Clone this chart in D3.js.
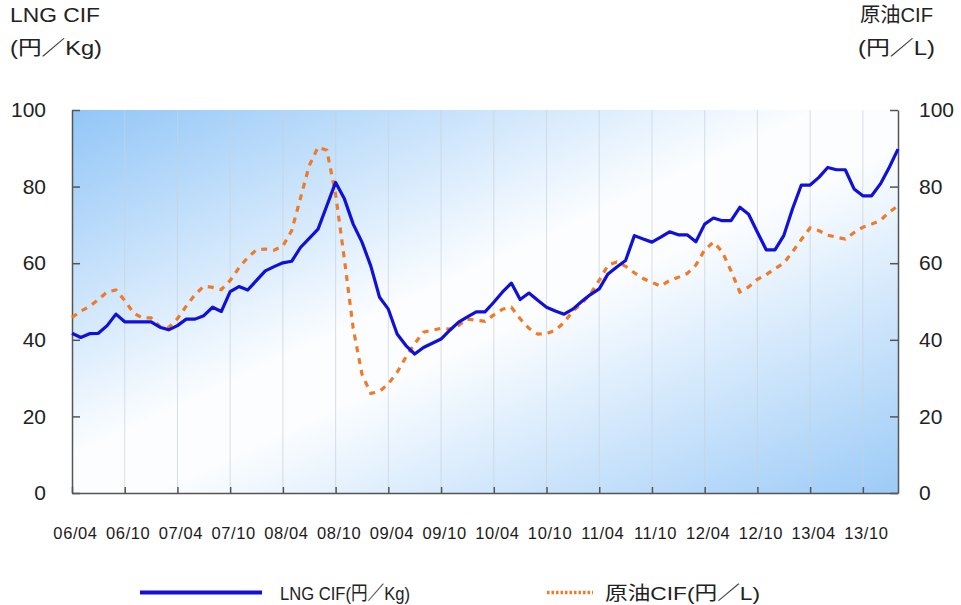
<!DOCTYPE html>
<html><head><meta charset="utf-8">
<script src="https://cdn.jsdelivr.net/npm/d3@7/dist/d3.min.js"></script>
<style>
body{margin:0;background:#fff;}
text{font-family:"Liberation Sans","Noto Sans CJK JP",sans-serif;fill:#222;}
</style></head>
<body><svg id="c" width="961" height="605"></svg>
<script>
// ---- data ----
const startYear = 2006, startMonth = 4, nMonths = 95;
const categories = [];
for (let i = 0; i < nMonths; i++) {
  const m = startMonth - 1 + i;
  const yy = startYear + Math.floor(m / 12), mm = m % 12 + 1;
  categories.push(String(yy % 100).padStart(2, "0") + "/" + String(mm).padStart(2, "0"));
}
const tickLabels = ["06/04","06/10","07/04","07/10","08/04","08/10","09/04","09/10","10/04","10/10","11/04","11/10","12/04","12/10","13/04","13/10"];
const yTicks = [0,20,40,60,80,100];
const lngSeriesName = "LNG CIF(円／Kg)";
const oilSeriesName = "原油CIF(円／L)";
const lngValues = [
 41.7,40.6,41.6,41.7,43.7,46.7,44.7,44.7,44.7,44.7,43.3,42.6,
 43.7,45.4,45.4,46.3,48.5,47.4,52.6,53.9,53.0,55.5,58.0,59.1,
 60.1,60.5,64.1,66.5,68.9,75.0,81.1,76.8,70.2,65.5,59.3,51.1,
 48.0,41.5,38.5,36.3,38.0,39.1,40.2,42.5,44.6,46.0,47.3,47.3,
 49.8,52.5,54.8,50.5,52.2,50.3,48.5,47.5,46.7,48.0,50.0,51.8,
 53.3,57.2,59.0,60.7,67.2,66.3,65.5,66.8,68.2,67.4,67.4,65.6,
 70.2,71.8,71.1,71.1,74.6,72.8,68.1,63.5,63.5,67.2,74.2,80.4,
 80.4,82.4,85.0,84.4,84.4,79.4,77.6,77.6,80.7,85.0,89.8
];
const oilValues = [
 45.8,47.5,48.7,50.5,52.5,53.0,50.3,47.0,45.7,45.7,43.5,43.2,
 45.5,48.8,51.8,54.0,53.7,53.1,55.5,58.8,61.5,63.5,63.7,63.4,
 64.5,68.5,77.0,85.5,90.3,89.5,78.0,61.0,43.0,31.0,26.0,26.5,
 28.5,31.5,35.5,39.0,42.0,42.5,43.0,42.8,43.8,45.4,45.1,44.8,
 46.5,48.0,48.5,45.5,43.0,41.5,41.6,42.5,44.5,47.5,49.5,52.0,
 55.5,59.5,60.3,59.2,57.5,56.0,55.0,54.0,55.5,56.3,57.3,59.5,
 63.5,65.5,63.0,58.0,52.5,53.8,55.8,57.0,58.6,60.0,63.0,66.2,
 69.2,68.5,67.3,66.8,66.3,68.0,69.4,70.2,71.2,73.3,75.0
];

// ---- chart ----
const svg = d3.select("#c");
const L = 72, R = 898, T = 110, B = 493;
const x = d3.scalePoint().domain(categories).range([L, R]);
const y = d3.scaleLinear().domain([0, 100]).range([B, T]);

const defs = svg.append("defs");
const g = defs.append("linearGradient").attr("id","bg")
  .attr("x1","0").attr("y1","0").attr("x2","1").attr("y2","1");
g.append("stop").attr("offset","0").attr("stop-color","#92c6f7");
g.append("stop").attr("offset","0.45").attr("stop-color","#fbfdff");
g.append("stop").attr("offset","0.55").attr("stop-color","#fbfdff");
g.append("stop").attr("offset","1").attr("stop-color","#9ccbf7");

svg.append("rect").attr("x",L).attr("y",T).attr("width",R-L).attr("height",B-T).attr("fill","url(#bg)");

// vertical grid
svg.append("g").selectAll("line").data(tickLabels.slice(1)).join("line")
  .attr("x1",d=>x(d)).attr("x2",d=>x(d)).attr("y1",T).attr("y2",B)
  .attr("stroke","#c9d2dc").attr("stroke-opacity",0.7).attr("stroke-width",1);

// axes
const axL = svg.append("g").attr("transform",`translate(${L},0)`)
  .call(d3.axisLeft(y).tickValues(yTicks).tickSize(-8).tickPadding(26).tickSizeOuter(0));
const axR = svg.append("g").attr("transform",`translate(${R},0)`)
  .call(d3.axisRight(y).tickValues(yTicks).tickSize(-8).tickPadding(21).tickSizeOuter(0));
const axB = svg.append("g").attr("transform",`translate(0,${B})`)
  .call(d3.axisBottom(x).tickValues(tickLabels).tickSize(-6).tickPadding(34).tickSizeOuter(0));
[axL, axR, axB].forEach(a => {
  a.select(".domain").attr("stroke","#555").attr("stroke-width",1.5);
  a.selectAll(".tick line").attr("stroke","#555").attr("stroke-width",1.5);
  a.selectAll("text").attr("font-family",null).style("fill","#222");
});
axL.selectAll("text").attr("font-size",21);
axR.selectAll("text").attr("font-size",21);
axB.selectAll("text").attr("font-size",16.5).attr("letter-spacing",0.6).attr("dx",3).style("fill","#1a1a1a");

// lines
const line = d3.line().x((d,i)=>x(categories[i])).y(d=>y(d));
svg.append("path").datum(oilValues).attr("d",line).attr("fill","none")
  .attr("stroke","#f07a28").attr("stroke-width",3.2).attr("stroke-dasharray","6,6");
svg.append("path").datum(lngValues).attr("d",line).attr("fill","none")
  .attr("stroke","#1010d8").attr("stroke-width",3.2).attr("stroke-linejoin","round");

// axis titles
const tt = svg.append("g").attr("font-size",20);
tt.append("text").attr("x",10).attr("y",22).attr("textLength",90).attr("lengthAdjust","spacingAndGlyphs").text("LNG CIF");
tt.append("text").attr("x",10).attr("y",55).attr("textLength",92).attr("lengthAdjust","spacingAndGlyphs").text("(円／Kg)");
tt.append("text").attr("x",860).attr("y",22).attr("textLength",73).attr("lengthAdjust","spacingAndGlyphs").text("原油CIF");
tt.append("text").attr("x",858).attr("y",55).attr("textLength",77).attr("lengthAdjust","spacingAndGlyphs").text("(円／L)");

// legend
const lg = svg.append("g");
lg.append("line").attr("x1",140).attr("x2",262).attr("y1",592.5).attr("y2",592.5)
  .attr("stroke","#1010d8").attr("stroke-width",4);
lg.append("text").attr("x",280).attr("y",600).attr("font-size",19)
  .attr("textLength",130).attr("lengthAdjust","spacingAndGlyphs").text(lngSeriesName);
lg.append("line").attr("x1",547).attr("x2",593).attr("y1",592.5).attr("y2",592.5)
  .attr("stroke","#f07a28").attr("stroke-width",3.5).attr("stroke-dasharray","2.5,2");
lg.append("text").attr("x",605).attr("y",600).attr("font-size",19)
  .attr("textLength",155).attr("lengthAdjust","spacingAndGlyphs").text(oilSeriesName);
</script></body></html>
